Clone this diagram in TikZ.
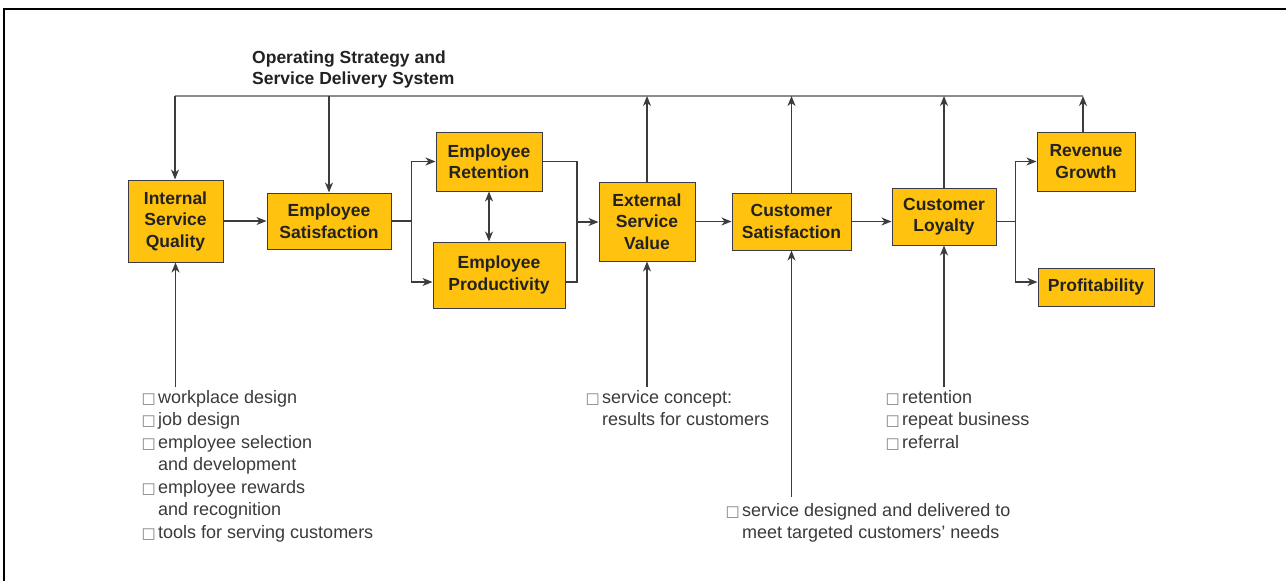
\documentclass[tikz,border=0pt]{standalone}
\usepackage{fontspec}
\setmainfont{Liberation Sans}
\newfontfamily\symfont{DejaVu Sans}
\usetikzlibrary{arrows.meta}
\definecolor{boxfill}{HTML}{FFC20E}
\definecolor{boxline}{HTML}{3A3A48}
\definecolor{linegray}{HTML}{3C3C3C}
\definecolor{topgray}{HTML}{8C8C8C}
\definecolor{textdark}{HTML}{222222}
\definecolor{textgray}{HTML}{3A3A3A}
\newcommand{\sq}{\makebox[15pt][l]{\hspace{-1.5pt}\color{gray}\fontsize{15}{15}\symfont\char"25A1}}
\newcommand{\boxfont}{\fontsize{17.5}{21.5}\selectfont\bfseries}
\newcommand{\listfont}{\fontsize{18}{22.5}\selectfont}

\begin{document}
\begin{tikzpicture}[x=1pt,y=-1pt,>={Stealth[length=10pt,width=8pt,inset=3pt]},
		box/.style={draw=boxline, fill=boxfill, line width=1pt, inner sep=0pt, align=center, font=\boxfont, text=textdark},
		conn/.style={draw=linegray, line width=1.4pt},
		arr/.style={conn, ->},
		list/.style={anchor=base west, inner sep=0pt, font=\listfont, text=textgray}]
%		\draw [help lines, step=50] (0,0) grid (1286,581);
		\useasboundingbox (0,0) rectangle (1286,581);
		\draw [line width=2.2pt] (4,581) -- (4,9) -- (1286,9);
		\node [anchor=base west, inner sep=0pt, align=left, font=\fontsize{17.5}{21}\selectfont\bfseries, text=textdark] (title) at (252,84) {Operating Strategy and\\Service Delivery System};
		\node [box, minimum width=95pt, minimum height=82pt] (isq) at (175.5,221) {Internal\\Service\\Quality};
		\node [box, minimum width=124pt, minimum height=56pt] (esat) at (329,221) {Employee\\Satisfaction};
		\node [box, minimum width=106pt, minimum height=59pt] (eret) at (489,161.5) {Employee\\Retention};
		\node [box, minimum width=132pt, minimum height=66pt] (eprod) at (499,275) {Employee\\Productivity};
		\node [box, minimum width=96pt, minimum height=79pt] (esv) at (647,221.5) {External\\Service\\Value};
		\node [box, minimum width=119pt, minimum height=57pt] (csat) at (791.5,221.5) {Customer\\Satisfaction};
		\node [box, minimum width=104pt, minimum height=57pt] (cloy) at (944,216.5) {Customer\\Loyalty};
		\node [box, minimum width=98pt, minimum height=59pt] (rev) at (1086,161.5) {Revenue\\Growth};
		\node [box, minimum width=116pt, minimum height=38pt] (prof) at (1096,287) {Profitability};
		% lists below the row
		\node [list] (qlist) at (143,403) {\begin{tabular}[t]{@{}l@{}l@{}}
			\sq & workplace design\\
			\sq & job design\\
			\sq & employee selection\\
			& and development\\
			\sq & employee rewards\\
			& and recognition\\
			\sq & tools for serving customers
		\end{tabular}};
		\node [list] (vlist) at (587,403) {\begin{tabular}[t]{@{}l@{}l@{}}
			\sq & service concept:\\
			& results for customers
		\end{tabular}};
		\node [list] (slist) at (727,516) {\begin{tabular}[t]{@{}l@{}l@{}}
			\sq & service designed and delivered to\\
			& meet targeted customers' needs
		\end{tabular}};
		\node [list] (llist) at (887,403) {\begin{tabular}[t]{@{}l@{}l@{}}
			\sq & retention\\
			\sq & repeat business\\
			\sq & referral
		\end{tabular}};
		% feedback line
		\coordinate (tl) at (175,96);
		\coordinate (tr) at (1083,96);
		\draw [conn, draw=topgray, line width=2pt] (tl) -- (tr);
		\draw [arr] (tl) -- (tl |- isq.north);
		\draw [arr] (esat.north |- tl) -- (esat.north);
		\draw [arr] (esv.north) -- (esv.north |- tl);
		\draw [arr] (csat.north) -- (csat.north |- tl);
		\draw [arr] (cloy.north) -- (cloy.north |- tl);
		\draw [arr] (tr |- rev.north) -- (tr);
		% main row
		\draw [arr] (isq.east) -- (esat.west);
		\draw [conn] (esat.east) -- ++(20,0) coordinate (b1);
		\draw [arr] (b1) |- (eret.west);
		\draw [arr] (b1) |- ([yshift=-7pt]eprod.west);
		\draw [<->, conn] (eret.south) -- (eret.south |- eprod.north);
		\coordinate (m) at (577,222);
		\draw [conn] (eret.east) -| (m);
		\draw [conn] ([yshift=-7pt]eprod.east) -| (m);
		\draw [arr] (m) -- (m -| esv.west);
		\draw [arr] (esv.east) -- (esv.east -| csat.west);
		\draw [arr] (csat.east) -- (csat.east -| cloy.west);
		\draw [conn] (cloy.east |- csat.east) -- ++(19,0) coordinate (b2);
		\draw [arr] (b2) |- (rev.west);
		\draw [arr] (b2) |- ([yshift=5pt]prof.west);
		% inputs from below
		\draw [arr] (isq.south |- qlist.north) -- (isq.south);
		\draw [arr] (esv.south |- vlist.north) -- (esv.south);
		\draw [arr] ([yshift=3pt]csat.south |- slist.north) -- (csat.south);
		\draw [arr] (cloy.south |- llist.north) -- (cloy.south);
\end{tikzpicture}
\end{document}
